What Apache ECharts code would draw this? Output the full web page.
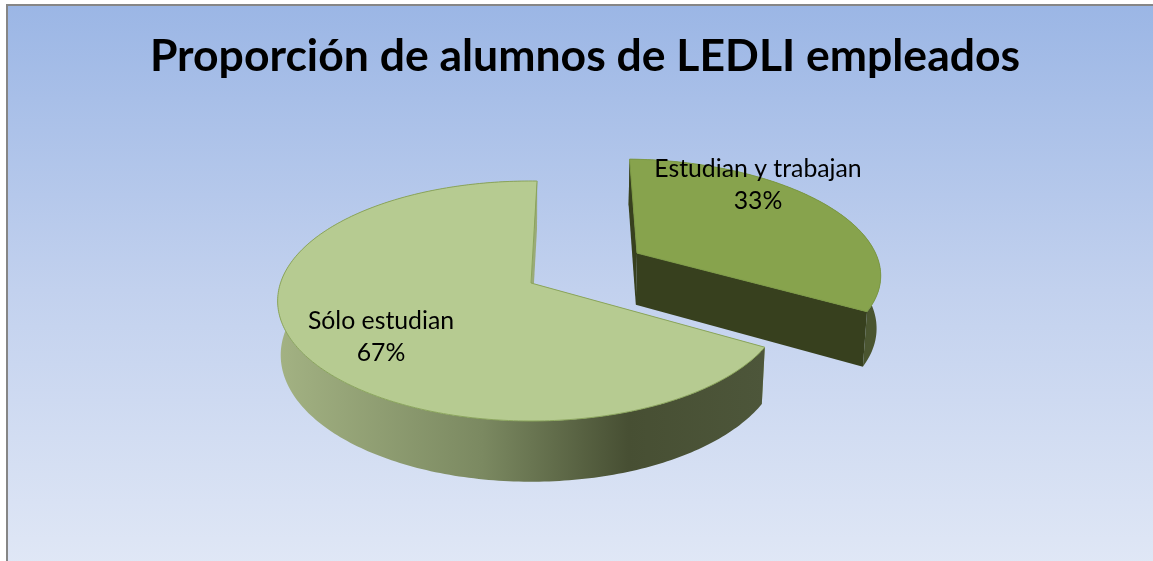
<!DOCTYPE html>
<html>
<head>
<meta charset="utf-8">
<style>
  html, body { margin: 0; padding: 0; background: #fff; }
  #chart { width: 1153px; height: 561px; }
</style>
<script src="https://cdn.jsdelivr.net/npm/echarts@6/dist/echarts.min.js"></script>
</head>
<body>
<div id="chart"></div>
<script>
// datos del gráfico
const chartTitle = 'Proporción de alumnos de LEDLI empleados'
const categories = ['Estudian y trabajan', 'Sólo estudian']
const values = [33, 67]

// cámara del pastel 3D: disco unidad proyectado con perspectiva sobre la pantalla
const view = { ax: 531, ay: 283, rx: 250.5, ry: 117.3, k: 0.15, m: 0.012, h: 54 }
const startAngle = 1.6
// desplazamiento de cada porción sobre el disco (la primera va separada)
const offsets = [[0.44, 0.265], [0, 0]]
const radii = [0.99, 1]
const labelPos = [[758, 185], [381, 337]]
const sliceStyles = [
  { top: '#87a34d', edge: '#7d9a45', cut: '#37401e', rim: '#4a5530' },
  {
    top: '#b6cb91', edge: '#8ba55c', cut: '#9aab78',
    rim: new echarts.graphic.LinearGradient(0, 0, 1, 0, [
      { offset: 0, color: '#a3b283' },
      { offset: 0.42, color: '#7b8961' },
      { offset: 0.72, color: '#474f33' },
      { offset: 1, color: '#4d563a' },
    ]),
  },
]

// z = 0 cara superior, z = 1 cara inferior
function project(u, v, z) {
  const w = 1 + view.k * v + view.m * z
  return [view.ax + (view.rx * u) / w, view.ay - (view.ry * v - view.h * z) / w]
}

function rimPoint(deg, i, z) {
  const a = (deg * Math.PI) / 180
  return project(offsets[i][0] + radii[i] * Math.sin(a), offsets[i][1] + radii[i] * Math.cos(a), z)
}

function arcPoints(from, to, i, z) {
  const pts = []
  for (let d = from; d < to; d += 1) pts.push(rimPoint(d, i, z))
  pts.push(rimPoint(to, i, z))
  return pts
}

function renderSlice(params) {
  const i = params.dataIndex
  const total = values.reduce((a, b) => a + b, 0)
  const before = values.slice(0, i).reduce((a, b) => a + b, 0)
  const from = startAngle + (before / total) * 360
  const to = from + (values[i] / total) * 360
  const s = sliceStyles[i]
  const apexTop = project(offsets[i][0], offsets[i][1], 0)
  const apexBottom = project(offsets[i][0], offsets[i][1], 1)
  const poly = (points, style) => ({ type: 'polygon', shape: { points }, style })
  const cut = (deg) => poly([apexTop, rimPoint(deg, i, 0), rimPoint(deg, i, 1), apexBottom], { fill: s.cut })
  const arcTop = arcPoints(from, to, i, 0)
  const arcBottom = arcPoints(from, to, i, 1)
  // el corte de arriba (startAngle) se ve por encima del borde; el de delante queda debajo
  const backCut = before === 0 ? from : to
  const frontCut = before === 0 ? to : from

  return {
    type: 'group',
    children: [
      cut(frontCut),
      poly(arcTop.concat(arcBottom.slice().reverse()), { fill: s.rim }),
      cut(backCut),
      poly([apexTop].concat(arcTop), { fill: s.top, stroke: s.edge, lineWidth: 1 }),
      {
        type: 'text',
        style: {
          text: categories[i] + '\n' + Math.round((values[i] / total) * 100) + '%',
          x: labelPos[i][0],
          y: labelPos[i][1],
          align: 'center',
          verticalAlign: 'middle',
          font: '24.8px Lato',
          lineHeight: 32,
          fill: '#000',
        },
      },
    ],
  }
}

const chart = echarts.init(document.getElementById('chart'))
chart.setOption({
  animation: false,
  backgroundColor: '#fff',
  title: {
    text: chartTitle,
    left: 580,
    top: 29,
    textAlign: 'center',
    textStyle: { fontFamily: 'Lato', fontWeight: 'bold', fontSize: 44.5, color: '#000' },
  },
  graphic: [
    {
      type: 'rect',
      z: -10,
      shape: { x: 7, y: 5, width: 1160, height: 570 },
      style: {
        fill: new echarts.graphic.LinearGradient(0, 0, 0, 1, [
          { offset: 0, color: '#9bb6e5' },
          { offset: 0.5, color: '#c2d1ee' },
          { offset: 1, color: '#e1e8f6' },
        ]),
        stroke: '#868686',
        lineWidth: 2,
      },
    },
  ],
  series: [
    {
      type: 'custom',
      coordinateSystem: 'none',
      silent: true,
      data: values,
      renderItem: renderSlice,
    },
  ],
})
</script>
</body>
</html>
